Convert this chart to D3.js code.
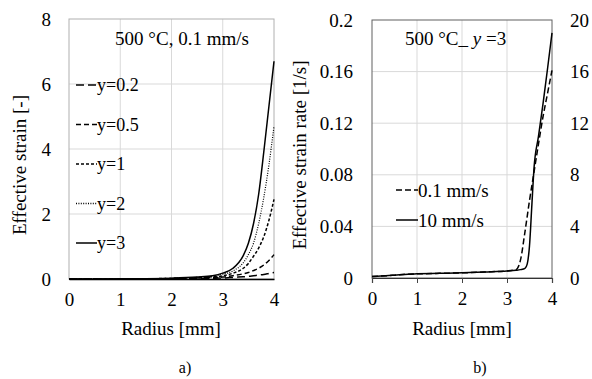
<!DOCTYPE html>
<html>
<head>
<meta charset="utf-8">
<script src="https://cdn.jsdelivr.net/npm/d3@7"></script>
<style>
  body { margin: 0; background: #fff; }
</style>
</head>
<body>
<svg id="chart" width="592" height="379"></svg>
<script>
// panel a) effective strain along radius, 500 °C, 0.1 mm/s
const radiusA = [0, 0.5, 1, 1.5, 2, 2.5, 2.8, 3, 3.2, 3.4, 3.5, 3.6, 3.7, 3.8, 3.9, 4];
const strainY02 = [0, 0.001, 0.002, 0.004, 0.008, 0.015, 0.022, 0.03, 0.05, 0.07, 0.08, 0.1, 0.12, 0.14, 0.17, 0.2];
const strainY05 = [0, 0.001, 0.003, 0.006, 0.012, 0.028, 0.045, 0.06, 0.1, 0.16, 0.2, 0.26, 0.33, 0.43, 0.57, 0.75];
const strainY1 = [0, 0.002, 0.004, 0.008, 0.018, 0.04, 0.07, 0.1, 0.18, 0.33, 0.48, 0.7, 0.95, 1.3, 1.8, 2.45];
const strainY2 = [0, 0.002, 0.005, 0.01, 0.022, 0.05, 0.09, 0.15, 0.25, 0.5, 0.75, 1.1, 1.7, 2.5, 3.5, 4.7];
const strainY3 = [0, 0.002, 0.005, 0.01, 0.025, 0.06, 0.1, 0.18, 0.33, 0.72, 1.1, 1.7, 2.6, 3.9, 5.3, 6.7];
const seriesA = ['y=0.2', 'y=0.5', 'y=1', 'y=2', 'y=3'];
const ticksAY = [0, 2, 4, 6, 8];

// panel b) effective strain rate, 500 °C, y = 3
// 0.1 mm/s is read on the left axis, 10 mm/s on the right axis
const radiusSlow = [0, 0.2, 0.5, 0.8, 1, 1.5, 2, 2.5, 3, 3.2, 3.3, 3.4, 3.5, 3.6, 3.7, 3.8, 3.9, 4];
const rateSlow = [0.0012, 0.0015, 0.0022, 0.003, 0.0032, 0.0036, 0.004, 0.0047, 0.0055, 0.0065,
  0.014, 0.036, 0.06, 0.082, 0.104, 0.125, 0.143, 0.161];
const radiusFast = [0, 0.2, 0.5, 0.8, 1, 1.5, 2, 2.5, 3, 3.2, 3.3, 3.4, 3.45, 3.5, 3.55, 3.6, 3.7, 3.8, 3.9, 4];
const rateFast = [0.12, 0.15, 0.22, 0.3, 0.32, 0.36, 0.4, 0.47, 0.54, 0.6, 0.65, 0.75, 1.1, 2.5, 5.5,
  8.5, 11, 13.5, 16.2, 19];
const seriesB = ['0.1 mm/s', '10 mm/s'];
const ticksBLeft = [0, 0.04, 0.08, 0.12, 0.16, 0.2];
const ticksBRight = [0, 4, 8, 12, 16, 20];
const ticksX = [0, 1, 2, 3, 4];

const svg = d3.select('#chart');
const dashA = ['8,4', '5,3', '3,2', '1,1.4', null];
const gridColor = '#d9d9d9';
const serifFont = '"Liberation Serif"';

function fmt(v) {
  return v === 0 ? '0' : String(v);
}

// ---- panel a ----
const xA = d3.scaleLinear().domain([0, 4]).range([69, 274]);
const yA = d3.scaleLinear().domain([0, 8]).range([279, 19]);
const gA = svg.append('g');

gA.selectAll('.gx').data(ticksX.slice(1, -1)).enter().append('line')
  .attr('x1', (d) => xA(d)).attr('x2', (d) => xA(d))
  .attr('y1', yA(0)).attr('y2', yA(8))
  .attr('stroke', gridColor);
gA.selectAll('.gy').data(ticksAY.slice(1, -1)).enter().append('line')
  .attr('x1', xA(0)).attr('x2', xA(4))
  .attr('y1', (d) => yA(d)).attr('y2', (d) => yA(d))
  .attr('stroke', gridColor);
gA.append('rect')
  .attr('x', xA(0)).attr('y', yA(8))
  .attr('width', xA(4) - xA(0)).attr('height', yA(0) - yA(8))
  .attr('fill', 'none').attr('stroke', '#b0b0b0');

const axA = gA.append('g').attr('transform', `translate(0,${yA(0)})`)
  .call(d3.axisBottom(xA).tickValues(ticksX).tickFormat(d3.format('d'))
    .tickSize(0).tickPadding(14));
axA.select('.domain').attr('stroke', '#000').attr('stroke-width', 1.5);

const ayA = gA.append('g').attr('transform', `translate(${xA(0) - 18},0)`)
  .call(d3.axisLeft(yA).tickValues(ticksAY).tickFormat(d3.format('d'))
    .tickSize(0).tickPadding(0));
ayA.select('.domain').remove();

const lineA = d3.line().x((d, i) => xA(radiusA[i])).y((d) => yA(d)).curve(d3.curveMonotoneX);
[strainY02, strainY05, strainY1, strainY2, strainY3].forEach((vals, k) => {
  gA.append('path').datum(vals)
    .attr('d', lineA)
    .attr('fill', 'none').attr('stroke', '#000')
    .attr('stroke-width', k === 3 ? 1.2 : 1.5)
    .attr('stroke-dasharray', dashA[k]);
});

const legA = gA.selectAll('.legA').data(seriesA).enter().append('g')
  .attr('transform', (d, i) => `translate(76,${85 + i * 39.5})`);
legA.append('line')
  .attr('x1', 0).attr('x2', 21).attr('y1', 0).attr('y2', 0)
  .attr('stroke', '#000').attr('stroke-width', 1.5)
  .attr('stroke-dasharray', (d, i) => dashA[i]);
legA.append('text').attr('x', 21).attr('y', 6)
  .attr('class', 'lbl17').text((d) => d);

gA.append('text').attr('x', 182).attr('y', 45)
  .attr('text-anchor', 'middle')
  .text('500 °C, 0.1 mm/s');
gA.append('text').attr('transform', 'translate(26,165) rotate(-90)')
  .attr('text-anchor', 'middle')
  .text('Effective strain [-]');
gA.append('text').attr('x', 171).attr('y', 335)
  .attr('text-anchor', 'middle')
  .text('Radius [mm]');
gA.append('text').attr('x', 185).attr('y', 373)
  .attr('text-anchor', 'middle').attr('class', 'lbl16')
  .text('a)');

// ---- panel b ----
const xB = d3.scaleLinear().domain([0, 4]).range([372, 552]);
const yB = d3.scaleLinear().domain([0, 0.2]).range([278, 20]);
const yB2 = d3.scaleLinear().domain([0, 20]).range([278, 20]);
const gB = svg.append('g');

gB.selectAll('.gx').data(ticksX.slice(1, -1)).enter().append('line')
  .attr('x1', (d) => xB(d)).attr('x2', (d) => xB(d))
  .attr('y1', yB(0)).attr('y2', yB(0.2))
  .attr('stroke', gridColor);
gB.selectAll('.gy').data(ticksBLeft.slice(1, -1)).enter().append('line')
  .attr('x1', xB(0)).attr('x2', xB(4))
  .attr('y1', (d) => yB(d)).attr('y2', (d) => yB(d))
  .attr('stroke', gridColor);
gB.append('rect')
  .attr('x', xB(0)).attr('y', yB(0.2))
  .attr('width', xB(4) - xB(0)).attr('height', yB(0) - yB(0.2))
  .attr('fill', 'none').attr('stroke', '#606060');

const axB = gB.append('g').attr('transform', `translate(0,${yB(0)})`)
  .call(d3.axisBottom(xB).tickValues(ticksX).tickFormat(d3.format('d'))
    .tickSize(5).tickPadding(9));
axB.select('.domain').attr('stroke', '#333').attr('stroke-width', 1.2);
axB.selectAll('.tick line').attr('stroke', '#444');

const ayB = gB.append('g').attr('transform', `translate(${xB(0) - 19},0)`)
  .call(d3.axisLeft(yB).tickValues(ticksBLeft).tickFormat(fmt).tickSize(0).tickPadding(0));
ayB.select('.domain').remove();

const ayB2 = gB.append('g').attr('transform', `translate(${xB(4) + 18},0)`)
  .call(d3.axisRight(yB2).tickValues(ticksBRight).tickFormat(d3.format('d'))
    .tickSize(0).tickPadding(0));
ayB2.select('.domain').remove();

const lineSlow = d3.line().x((d, i) => xB(radiusSlow[i])).y((d) => yB(d)).curve(d3.curveMonotoneX);
const lineFast = d3.line().x((d, i) => xB(radiusFast[i])).y((d) => yB2(d)).curve(d3.curveMonotoneX);
gB.append('path').datum(rateSlow).attr('d', lineSlow)
  .attr('fill', 'none').attr('stroke', '#000').attr('stroke-width', 1.5)
  .attr('stroke-dasharray', '6,3');
gB.append('path').datum(rateFast).attr('d', lineFast)
  .attr('fill', 'none').attr('stroke', '#000').attr('stroke-width', 1.5);

const legB = gB.selectAll('.legB').data(seriesB).enter().append('g')
  .attr('transform', (d, i) => `translate(396,${190 + i * 30})`);
legB.append('line')
  .attr('x1', 0).attr('x2', 22).attr('y1', 0).attr('y2', 0)
  .attr('stroke', '#000').attr('stroke-width', 1.5)
  .attr('stroke-dasharray', (d, i) => (i === 0 ? '6,3' : null));
legB.append('text').attr('x', 22).attr('y', 7)
  .text((d) => d);

const titleB = gB.append('text').attr('x', 405).attr('y', 45);
titleB.append('tspan').text('500 °C_ ');
titleB.append('tspan').style('font-style', 'italic').text('y');
titleB.append('tspan').text(' =3');

gB.append('text').attr('transform', 'translate(306,155) rotate(-90)')
  .attr('text-anchor', 'middle')
  .text('Effective strain rate [1/s]');
gB.append('text').attr('x', 462).attr('y', 335)
  .attr('text-anchor', 'middle')
  .text('Radius [mm]');
gB.append('text').attr('x', 480).attr('y', 373)
  .attr('text-anchor', 'middle').attr('class', 'lbl16')
  .text('b)');

// one font for every label
svg.selectAll('text')
  .style('font-family', serifFont)
  .style('font-size', function() {
    const c = d3.select(this).attr('class');
    return c === 'lbl16' ? '16px' : c === 'lbl17' ? '18px' : '19px';
  })
  .style('fill', '#000');
</script>
</body>
</html>
